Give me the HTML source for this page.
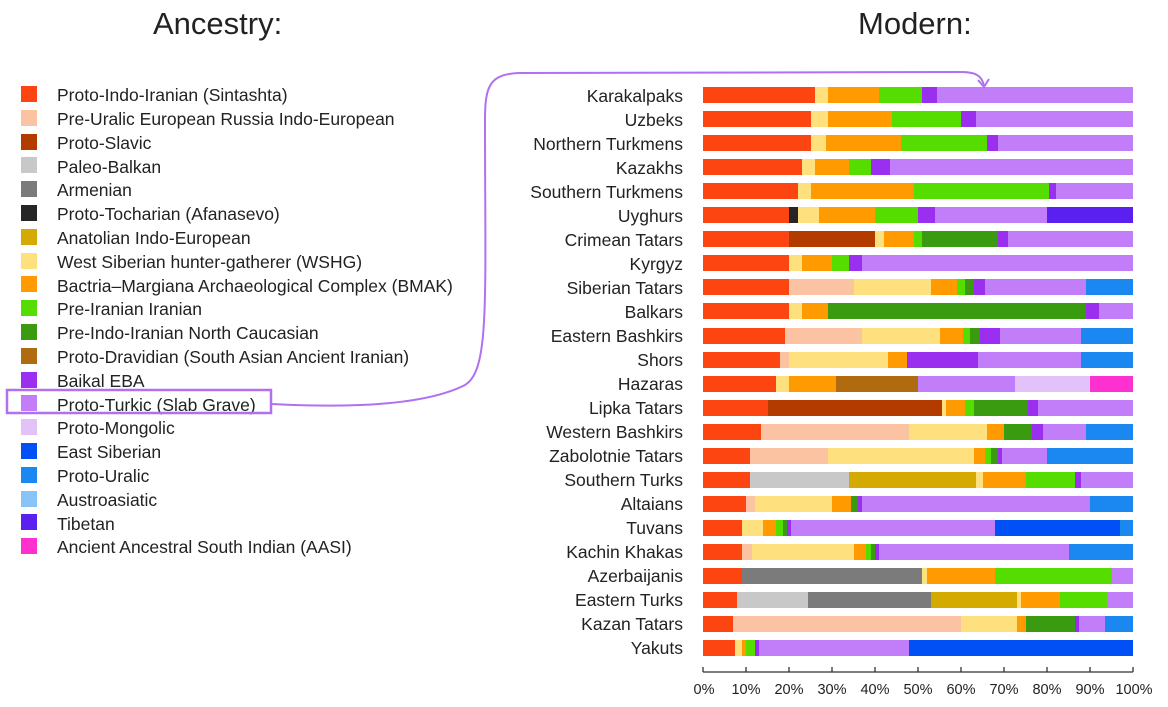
<!DOCTYPE html>
<html><head><meta charset="utf-8"><style>
body{margin:0;width:1168px;height:707px;background:#fff;position:relative;overflow:hidden;font-family:"Liberation Sans",Arial,sans-serif;color:#222}
.t{position:absolute;font-size:31px;top:6px}
.lg{position:absolute;left:57px;font-size:17.5px;line-height:18px;white-space:nowrap}
.sw{position:absolute;left:21px;width:16px;height:16px}
.cl{position:absolute;right:485px;font-size:17.5px;line-height:18px;text-align:right;white-space:nowrap}
.ax{position:absolute;top:682px;font-size:14.5px;width:50px;text-align:center;margin-left:-25px}
.seg{position:absolute;height:16px}
</style></head><body>
<div class="t" style="left:153px">Ancestry:</div>
<div class="t" style="left:858px">Modern:</div>
<div id="legend"></div>
<div class="lg" style="top:86px">Proto-Indo-Iranian (Sintashta)</div>
<div class="lg" style="top:110px">Pre-Uralic European Russia Indo-European</div>
<div class="lg" style="top:134px">Proto-Slavic</div>
<div class="lg" style="top:158px">Paleo-Balkan</div>
<div class="lg" style="top:181px">Armenian</div>
<div class="lg" style="top:205px">Proto-Tocharian (Afanasevo)</div>
<div class="lg" style="top:229px">Anatolian Indo-European</div>
<div class="lg" style="top:253px">West Siberian hunter-gatherer (WSHG)</div>
<div class="lg" style="top:277px">Bactria–Margiana Archaeological Complex (BMAK)</div>
<div class="lg" style="top:300px">Pre-Iranian Iranian</div>
<div class="lg" style="top:324px">Pre-Indo-Iranian North Caucasian</div>
<div class="lg" style="top:348px">Proto-Dravidian (South Asian Ancient Iranian)</div>
<div class="lg" style="top:372px">Baikal EBA</div>
<div class="lg" style="top:396px">Proto-Turkic (Slab Grave)</div>
<div class="lg" style="top:419px">Proto-Mongolic</div>
<div class="lg" style="top:443px">East Siberian</div>
<div class="lg" style="top:467px">Proto-Uralic</div>
<div class="lg" style="top:491px">Austroasiatic</div>
<div class="lg" style="top:515px">Tibetan</div>
<div class="lg" style="top:538px">Ancient Ancestral South Indian (AASI)</div>

<div class="cl" style="top:87px">Karakalpaks</div>
<div class="cl" style="top:111px">Uzbeks</div>
<div class="cl" style="top:135px">Northern Turkmens</div>
<div class="cl" style="top:159px">Kazakhs</div>
<div class="cl" style="top:183px">Southern Turkmens</div>
<div class="cl" style="top:207px">Uyghurs</div>
<div class="cl" style="top:231px">Crimean Tatars</div>
<div class="cl" style="top:255px">Kyrgyz</div>
<div class="cl" style="top:279px">Siberian Tatars</div>
<div class="cl" style="top:303px">Balkars</div>
<div class="cl" style="top:327px">Eastern Bashkirs</div>
<div class="cl" style="top:351px">Shors</div>
<div class="cl" style="top:375px">Hazaras</div>
<div class="cl" style="top:399px">Lipka Tatars</div>
<div class="cl" style="top:423px">Western Bashkirs</div>
<div class="cl" style="top:447px">Zabolotnie Tatars</div>
<div class="cl" style="top:471px">Southern Turks</div>
<div class="cl" style="top:495px">Altaians</div>
<div class="cl" style="top:519px">Tuvans</div>
<div class="cl" style="top:543px">Kachin Khakas</div>
<div class="cl" style="top:567px">Azerbaijanis</div>
<div class="cl" style="top:591px">Eastern Turks</div>
<div class="cl" style="top:615px">Kazan Tatars</div>
<div class="cl" style="top:639px">Yakuts</div>

<div class="ax" style="left:704px">0%</div><div class="ax" style="left:746px">10%</div><div class="ax" style="left:789px">20%</div><div class="ax" style="left:832px">30%</div><div class="ax" style="left:875px">40%</div><div class="ax" style="left:918px">50%</div><div class="ax" style="left:961px">60%</div><div class="ax" style="left:1004px">70%</div><div class="ax" style="left:1047px">80%</div><div class="ax" style="left:1090px">90%</div><div class="ax" style="left:1134px">100%</div>
<div id="bars"></div>
<svg width="1168" height="707" style="position:absolute;left:0;top:0" fill="none">
<line x1="703" y1="672" x2="1133" y2="672" stroke="#333" stroke-width="1.3"/>
<g id="ticks" stroke="#333" stroke-width="1.3"></g>
<rect x="7" y="390" width="264" height="23" stroke="#b070f0" stroke-width="2.5"/>
<path d="M272 404 C330 407 420 408 465 385 C490 370 485 300 485 120 C485 85 490 74 520 73 L960 72 C975 72 982 75 984 86" stroke="#b070f0" stroke-width="2"/>
<path d="M978 80 L984 87 L989 79" stroke="#b070f0" stroke-width="2"/>
</svg>
<script>
var C={r:'#fc4510',pu:'#fcc3a3',sl:'#b33b00',pb:'#c8c8c8',ar:'#7b7b7b',to:'#262626',an:'#d4aa00',w:'#ffe07e',b:'#ff9a00',pi:'#55dd00',nc:'#3a9a10',dr:'#b06a10',bk:'#9a2ff0',tu:'#c27ef8',mo:'#e2c2f8',es:'#0050f5',ur:'#1a88f0',aa:'#88c4f8',ti:'#5a20f0',as:'#ff30d0'};
var L=['r','pu','sl','pb','ar','to','an','w','b','pi','nc','dr','bk','tu','mo','es','ur','aa','ti','as'];
var h='';L.forEach(function(k,i){h+='<div class="sw" style="top:'+(86+i*23.8)+'px;background:'+C[k]+'"></div>'});
document.getElementById('legend').innerHTML=h;
var R=[
[['r',26],['w',29],['b',41],['pi',51],['bk',54.5],['tu',100]],
[['r',25],['w',29],['b',44],['pi',60],['bk',63.5],['tu',100]],
[['r',25],['w',28.5],['b',46],['pi',66],['bk',68.5],['tu',100]],
[['r',23],['w',26],['b',34],['pi',39],['bk',43.5],['tu',100]],
[['r',22],['w',25],['b',49],['pi',80.5],['bk',82],['tu',100]],
[['r',20],['to',22],['w',27],['b',40],['pi',50],['bk',54],['tu',80],['ti',100]],
[['r',20],['sl',40],['w',42],['b',49],['pi',51],['nc',68.5],['bk',71],['tu',100]],
[['r',20],['w',23],['b',30],['pi',34],['bk',37],['tu',100]],
[['r',20],['pu',35],['w',53],['b',59],['pi',61],['nc',63],['bk',65.5],['tu',89],['ur',100]],
[['r',20],['w',23],['b',29],['nc',89],['bk',92],['tu',100]],
[['r',19],['pu',37],['w',55],['b',60.5],['pi',62],['nc',64.5],['bk',69],['tu',88],['ur',100]],
[['r',18],['pu',20],['w',43],['b',47.5],['bk',64],['tu',88],['ur',100]],
[['r',17],['w',20],['b',31],['dr',50],['tu',72.5],['mo',90],['as',100]],
[['r',15],['sl',55.5],['w',56.5],['b',61],['pi',63],['nc',75.5],['bk',78],['tu',100]],
[['r',13.5],['pu',48],['w',66],['b',70],['nc',76.5],['bk',79],['tu',89],['ur',100]],
[['r',11],['pu',29],['w',63],['b',65.5],['pi',67],['nc',68.5],['bk',69.5],['tu',80],['ur',100]],
[['r',11],['pb',34],['an',63.5],['w',65],['b',75],['pi',86.5],['bk',88],['tu',100]],
[['r',10],['pu',12],['w',30],['b',34.5],['nc',36],['bk',37],['tu',90],['ur',100]],
[['r',9],['w',14],['b',17],['pi',18.5],['nc',19.5],['bk',20.5],['tu',68],['es',97],['ur',100]],
[['r',9],['pu',11.5],['w',35],['b',38],['pi',39],['nc',40],['bk',41],['tu',85],['ur',100]],
[['r',9],['ar',51],['w',52],['b',68],['pi',95],['tu',100]],
[['r',8],['pb',24.5],['ar',53],['an',73],['w',74],['b',83],['pi',94],['tu',100]],
[['r',7],['pu',60],['w',73],['b',75],['nc',86.5],['bk',87.5],['tu',93.5],['ur',100]],
[['r',7.5],['w',9],['b',10],['pi',12],['bk',13],['tu',48],['es',100]]];
h='';R.forEach(function(row,i){var p=0,y=87+i*24.05;row.forEach(function(s){var x0=703+p*4.3,x1=703+s[1]*4.3;h+='<div class="seg" style="top:'+y+'px;left:'+x0+'px;width:'+(x1-x0+0.3)+'px;background:'+C[s[0]]+'"></div>';p=s[1];});});
document.getElementById('bars').innerHTML=h;
var t='';for(var i=0;i<=10;i++){var x=703+i*43;t+='<line x1="'+x+'" y1="667" x2="'+x+'" y2="672"/>'}
document.getElementById('ticks').innerHTML=t;
</script>
</body></html>
